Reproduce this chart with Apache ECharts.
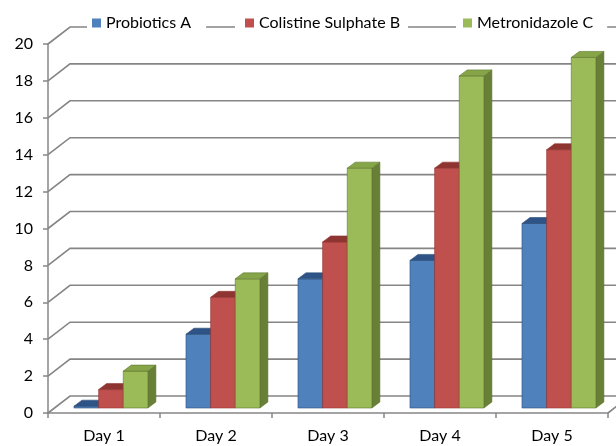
<!DOCTYPE html>
<html>
<head>
<meta charset="utf-8">
<script src="https://cdn.jsdelivr.net/npm/echarts@6/dist/echarts.min.js"></script>
<style>
  html, body { margin: 0; padding: 0; background: #fff; }
  #chart { width: 616px; height: 446px; }
</style>
</head>
<body>
<div id="chart"></div>
<script>
const categories = ['Day 1', 'Day 2', 'Day 3', 'Day 4', 'Day 5']
const probioticsA = [0.1, 4, 7, 8, 10]
const colistineB = [1, 6, 9, 13, 14]
const metronidazoleC = [2, 7, 13, 18, 19]
const yTicks = [0, 2, 4, 6, 8, 10, 12, 14, 16, 18, 20]

// front, top, side colours per series
const faces = [
  { front: '#4F81BD', top: '#2E5386', side: '#385D8A', edge: '#2C4D75' },
  { front: '#C0504D', top: '#8E3431', side: '#8C3836', edge: '#943634' },
  { front: '#9BBB59', top: '#86A548', side: '#677F36', edge: '#5F7530' }
]

const wallDx = 22
const wallDy = -17
const gridColor = '#858585'
const font = 'Lato, "Open Sans", sans-serif'

const chart = echarts.init(document.getElementById('chart'))

const bar3d = (idx) => (params, api) => {
  const cat = api.value(0)
  const val = api.value(1)
  const cw = api.size([1, 0])[0]
  const bw = cw * 0.22
  const base = api.coord([cat, 0])
  const top = api.coord([cat, val])
  const x = base[0] - cw * 0.268 + idx * bw
  const yb = base[1] - 5
  const yt = top[1] - 5
  const dx = 8
  const dy = -6
  const f = faces[idx]
  return {
    type: 'group',
    children: [
      {
        type: 'polygon',
        shape: { points: [[x + bw, yb], [x + bw + dx, yb + dy], [x + bw + dx, yt + dy], [x + bw, yt]] },
        style: { fill: f.side, stroke: f.edge, lineWidth: 0.6 }
      },
      {
        type: 'rect',
        shape: { x: x, y: yt, width: bw, height: yb - yt },
        style: { fill: f.front, stroke: f.edge, lineWidth: 0.6 }
      },
      {
        type: 'polygon',
        shape: { points: [[x, yt], [x + bw, yt], [x + bw + dx, yt + dy], [x + dx, yt + dy]] },
        style: { fill: f.top, stroke: f.edge, lineWidth: 0.6 }
      }
    ]
  }
}

const walls = (params, api) => {
  const v = api.value(1)
  const cw = api.size([1, 0])[0]
  const p = api.coord([0, v])
  const x0 = p[0] - cw / 2
  const xEnd = x0 + cw * categories.length
  const children = [{
    type: 'polyline',
    shape: { points: [[x0, p[1]], [x0 + wallDx, p[1] + wallDy], [xEnd + wallDx, p[1] + wallDy]] },
    style: { stroke: gridColor, lineWidth: 1.6, fill: null }
  }]
  if (v === 0) {
    children.push({
      type: 'line',
      shape: { x1: xEnd, y1: p[1], x2: xEnd + wallDx, y2: p[1] + wallDy },
      style: { stroke: gridColor, lineWidth: 1.6 }
    })
  }
  return { type: 'group', children }
}

const seriesNames = ['Probiotics A', 'Colistine Sulphate B', 'Metronidazole C']
const seriesData = [probioticsA, colistineB, metronidazoleC]

const legendBox = (name, left, pad) => ({
  data: [{ name, icon: 'rect' }],
  left,
  top: 13,
  itemWidth: 9,
  itemHeight: 9,
  padding: pad,
  backgroundColor: '#fff',
  textStyle: { fontFamily: font, fontSize: 16, color: '#000' }
})

chart.setOption({
  animation: false,
  legend: [
    legendBox('Probiotics A', 87, [2, 15, 2, 5]),
    legendBox('Colistine Sulphate B', 235, [2, 8, 2, 10]),
    legendBox('Metronidazole C', 456, [2, 14, 2, 7])
  ],
  grid: { left: 48, right: 8, top: 44, bottom: 33 },
  xAxis: {
    type: 'category',
    data: categories,
    axisLine: { lineStyle: { color: '#868686', width: 1.5 } },
    axisTick: { show: true, length: 5, lineStyle: { color: '#868686', width: 1.5 } },
    axisLabel: { margin: 15, fontFamily: font, fontSize: 16, color: '#000' }
  },
  yAxis: {
    type: 'value',
    min: 0,
    max: 20,
    interval: 2,
    splitLine: { show: false },
    axisLine: { show: true, lineStyle: { color: '#868686', width: 1.5 } },
    axisTick: { show: true, length: 5, lineStyle: { color: '#868686', width: 1.5 } },
    axisLabel: { margin: 15, fontFamily: font, fontSize: 16, color: '#000' }
  },
  series: [
    {
      type: 'custom',
      name: 'walls',
      silent: true,
      z: 1,
      renderItem: walls,
      data: yTicks.map((v) => [0, v])
    },
    ...seriesNames.map((name, idx) => ({
      type: 'custom',
      name,
      z: 3,
      itemStyle: { color: faces[idx].front },
      renderItem: bar3d(idx),
      encode: { x: 0, y: 1 },
      data: seriesData[idx].map((v, i) => [i, v])
    }))
  ]
})
</script>
</body>
</html>
